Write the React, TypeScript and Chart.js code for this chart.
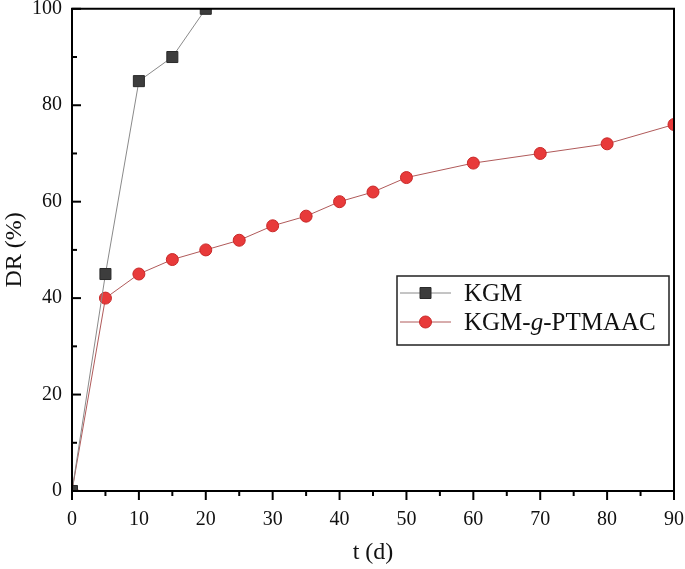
import React, { useEffect, useRef } from "react";
import { Chart, registerables } from "chart.js";

Chart.register(...registerables);

const tKGM = [0, 5, 10, 15, 20];
const drKGM = [0, 45, 85, 90, 100];
const tPT = [0, 5, 10, 15, 20, 25, 30, 35, 40, 45, 50, 60, 70, 80, 90];
const drPT = [0, 40, 45, 48, 50, 52, 55, 57, 60, 62, 65, 68, 70, 72, 76];
const xTicks = [0, 10, 20, 30, 40, 50, 60, 70, 80, 90];
const yTicks = [0, 20, 40, 60, 80, 100];
const legendLabels = ["KGM", "KGM-g-PTMAAC"];

const FONT = "'Liberation Serif', 'Times New Roman', serif";

const framePlugin = {
  id: "frame",
  afterDraw(chart: any) {
    const { ctx, chartArea } = chart;
    const { left, right, top, bottom } = chartArea;
    const xs = chart.scales.x;
    const ys = chart.scales.y;
    ctx.save();
    ctx.strokeStyle = "#000";
    ctx.lineWidth = 2;
    ctx.beginPath();
    ctx.rect(left, top, right - left, bottom - top);
    ctx.stroke();
    ctx.lineWidth = 2;
    // x ticks outward
    for (let v = 0; v <= 90; v += 5) {
      const px = xs.getPixelForValue(v);
      const len = v % 10 === 0 ? 9 : 5;
      ctx.beginPath();
      ctx.moveTo(px, bottom);
      ctx.lineTo(px, bottom + len);
      ctx.stroke();
    }
    // y ticks inward
    for (let v = 0; v <= 100; v += 10) {
      const py = ys.getPixelForValue(v);
      const len = v % 20 === 0 ? 9 : 5;
      ctx.beginPath();
      ctx.moveTo(left, py);
      ctx.lineTo(left + len, py);
      ctx.stroke();
    }
    // legend
    const bx = 397, by = 276, bw = 272, bh = 69;
    ctx.lineWidth = 1.5;
    ctx.strokeStyle = "#222";
    ctx.fillStyle = "#fff";
    ctx.fillRect(bx, by, bw, bh);
    ctx.strokeRect(bx, by, bw, bh);
    const rows = [
      { y: 293, line: "#8a8a8a", fill: "#3d3d3d", edge: "#2a2a2a", shape: "rect" },
      { y: 322, line: "#b05a5a", fill: "#e83a3a", edge: "#c82828", shape: "circle" },
    ];
    rows.forEach((r, i) => {
      ctx.strokeStyle = r.line;
      ctx.lineWidth = 1;
      ctx.beginPath();
      ctx.moveTo(400, r.y);
      ctx.lineTo(451, r.y);
      ctx.stroke();
      ctx.fillStyle = r.fill;
      ctx.strokeStyle = r.edge;
      ctx.beginPath();
      if (r.shape === "rect") ctx.rect(420, r.y - 5.5, 11, 11);
      else ctx.arc(425.5, r.y, 6, 0, Math.PI * 2);
      ctx.fill();
      ctx.stroke();
      ctx.fillStyle = "#111";
      ctx.textBaseline = "middle";
      ctx.textAlign = "left";
      const label = legendLabels[i];
      let x = 464;
      if (label.includes("-g-")) {
        const parts = label.split("-g-");
        ctx.font = `25px ${FONT}`;
        ctx.fillText(parts[0] + "-", x, r.y + 1);
        x += ctx.measureText(parts[0] + "-").width;
        ctx.font = `italic 25px ${FONT}`;
        ctx.fillText("g", x, r.y + 1);
        x += ctx.measureText("g").width;
        ctx.font = `25px ${FONT}`;
        ctx.fillText("-" + parts[1], x, r.y + 1);
      } else {
        ctx.font = `25px ${FONT}`;
        ctx.fillText(label, x, r.y + 1);
      }
    });
    ctx.restore();
  },
};

export default function App() {
  const ref = useRef<HTMLCanvasElement>(null);
  useEffect(() => {
    if (!ref.current) return;
    const chart = new Chart(ref.current, {
      type: "line",
      data: {
        datasets: [
          {
            label: legendLabels[0],
            data: tKGM.map((t, i) => ({ x: t, y: drKGM[i] })),
            borderColor: "#8a8a8a",
            borderWidth: 1,
            pointStyle: "rect",
            pointRadius: 7.8,
            pointBackgroundColor: "#3d3d3d",
            pointBorderColor: "#2a2a2a",
            pointBorderWidth: 1,
            clip: 0,
          } as any,
          {
            label: legendLabels[1],
            data: tPT.map((t, i) => ({ x: t, y: drPT[i] })),
            borderColor: "#b05a5a",
            borderWidth: 1,
            pointStyle: "circle",
            pointRadius: 6,
            pointBackgroundColor: "#e83a3a",
            pointBorderColor: "#c82828",
            pointBorderWidth: 1,
            clip: 0,
          } as any,
        ],
      },
      options: {
        responsive: false,
        animation: false,
        layout: { padding: { left: 0, right: 11, top: 8, bottom: 0 } },
        plugins: { legend: { display: false }, tooltip: { enabled: false } },
        scales: {
          x: {
            type: "linear",
            min: 0,
            max: 90,
            afterFit: (s: any) => {
              s.height = 78;
              s.paddingLeft = 0;
              s.paddingRight = 0;
            },
            afterBuildTicks: (s: any) => {
              s.ticks = xTicks.map((v) => ({ value: v }));
            },
            grid: { display: false, drawTicks: false },
            border: { display: false },
            ticks: {
              padding: 17,
              color: "#111",
              font: { family: FONT, size: 20 },
              maxRotation: 0,
              autoSkip: false,
            },
            title: {
              display: true,
              text: "t (d)",
              color: "#111",
              font: { family: FONT, size: 24 },
              padding: { top: 0, bottom: 2 },
            },
          },
          y: {
            type: "linear",
            min: 0,
            max: 100,
            afterFit: (s: any) => {
              s.width = 72;
              s.paddingTop = 0;
              s.paddingBottom = 0;
            },
            afterBuildTicks: (s: any) => {
              s.ticks = yTicks.map((v) => ({ value: v }));
            },
            grid: { display: false, drawTicks: false },
            border: { display: false },
            ticks: {
              padding: 10,
              color: "#111",
              font: { family: FONT, size: 20 },
              autoSkip: false,
            },
            title: {
              display: true,
              text: "DR (%)",
              color: "#111",
              font: { family: FONT, size: 24 },
              padding: { top: 0, bottom: 0 },
            },
          },
        },
      },
      plugins: [framePlugin],
    });
    return () => chart.destroy();
  }, []);
  return (
    <div style={{ position: "absolute", left: 0, top: 0, width: 685, height: 569, background: "#fff" }}>
      <canvas ref={ref} width={685} height={569} style={{ display: "block" }} />
    </div>
  );
}
